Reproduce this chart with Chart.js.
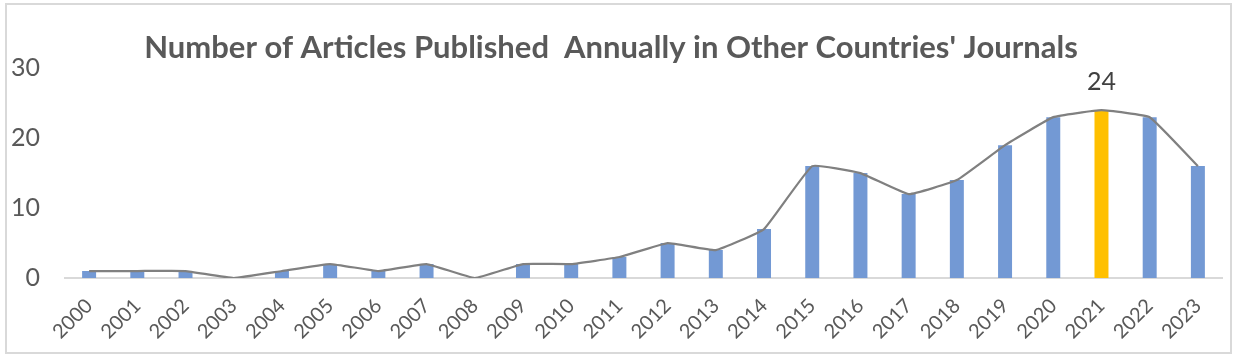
<!DOCTYPE html>
<html>
<head>
<meta charset="utf-8">
<script src="https://cdn.jsdelivr.net/npm/chart.js@4/dist/chart.umd.min.js"></script>
<style>
  html, body { margin: 0; padding: 0; background: #ffffff; }
  #wrap { position: relative; width: 1233px; height: 356px; }
  #frame { position: absolute; left: 5px; top: 3px; width: 1223px; height: 347px; border: 2px solid #d9d9d9; box-sizing: content-box; pointer-events: none; }
  canvas { position: absolute; left: 0; top: 0; }
</style>
</head>
<body>
<div id="wrap">
  <canvas id="c" width="1233" height="356"></canvas>
  <div id="frame"></div>
</div>
<script>
const years = ['2000','2001','2002','2003','2004','2005','2006','2007','2008','2009','2010','2011',
               '2012','2013','2014','2015','2016','2017','2018','2019','2020','2021','2022','2023'];
const articles = [1, 1, 1, 0, 1, 2, 1, 2, 0, 2, 2, 3, 5, 4, 7, 16, 15, 12, 14, 19, 23, 24, 23, 16];
const yTicks = [0, 10, 20, 30];
const highlightYear = '2021';
const titleText = "Number of Articles Published  Annually in Other Countries' Journals";

const BAR_BLUE = '#7399d4';
const BAR_GOLD = '#ffc000';
const barColors = years.map(y => y === highlightYear ? BAR_GOLD : BAR_BLUE);

const FONT = 'Lato, "Open Sans", sans-serif';

const labelPlugin = {
  id: 'peakLabel',
  afterDatasetsDraw(chart) {
    const meta = chart.getDatasetMeta(1);
    const idx = years.indexOf(highlightYear);
    const el = meta.data[idx];
    if (!el) return;
    const ctx = chart.ctx;
    ctx.save();
    ctx.font = '25px ' + FONT;
    ctx.fillStyle = '#404040';
    ctx.textAlign = 'center';
    ctx.textBaseline = 'middle';
    ctx.fillText(String(articles[idx]), el.x, el.y - 28);
    ctx.restore();
  }
};

new Chart(document.getElementById('c'), {
  type: 'bar',
  data: {
    labels: years,
    datasets: [
      {
        type: 'line',
        data: articles,
        borderColor: '#808080',
        borderWidth: 2.25,
        pointRadius: 0,
        tension: 0.1,
        fill: false,
        order: 0
      },
      {
        type: 'bar',
        data: articles,
        backgroundColor: barColors,
        barPercentage: 0.29,
        categoryPercentage: 1.0,
        order: 1
      }
    ]
  },
  options: {
    responsive: false,
    animation: false,
    layout: { padding: { left: 0, right: 11, top: 0, bottom: 0 } },
    plugins: {
      legend: { display: false },
      tooltip: { enabled: false },
      title: {
        display: true,
        text: titleText,
        color: '#595959',
        font: { family: FONT, size: 31, weight: 'bold' },
        padding: { top: 29, bottom: 2 }
      }
    },
    scales: {
      x: {
        grid: { display: false, drawTicks: false },
        border: { display: true, color: '#d9d9d9', width: 2 },
        ticks: {
          color: '#595959',
          font: { family: FONT, size: 20 },
          maxRotation: 45,
          minRotation: 45,
          autoSkip: false,
          padding: 16
        },
        afterFit(s) { s.height = 78; }
      },
      y: {
        min: 0,
        max: 30,
        afterBuildTicks(s) { s.ticks = yTicks.map(v => ({ value: v })); },
        grid: { display: false, drawTicks: false },
        border: { display: false },
        ticks: {
          color: '#595959',
          font: { family: FONT, size: 25 },
          padding: 25
        },
        afterFit(s) { s.width = 65; }
      }
    }
  },
  plugins: [labelPlugin]
});
</script>
</body>
</html>
